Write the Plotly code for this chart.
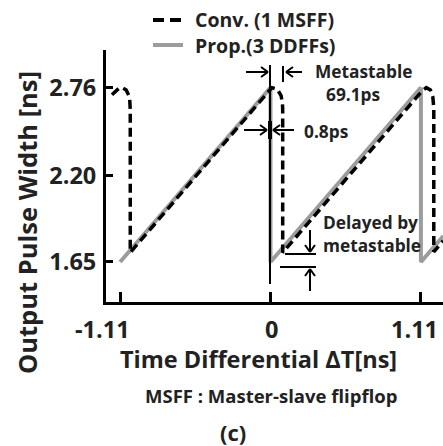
import plotly.graph_objects as go

# ---------------- data ----------------
prop_x = [-1.11, 0.0, 0.0, 1.11, 1.11, 1.275]
prop_y = [1.65, 2.76, 1.65, 2.76, 1.65, 1.815]

conv_x = [-1.17, -1.12, -1.095, -1.065, -1.04, -1.035, -1.035, -0.015, 0.01, 0.05, 0.078, 0.088, 0.09, 0.09,
          1.12, 1.15, 1.18, 1.198, 1.205, 1.205, 1.275]
conv_y = [2.715, 2.755, 2.76, 2.745, 2.70, 2.62, 1.71, 2.73, 2.76, 2.75, 2.71, 2.66, 2.62, 1.71,
          2.74, 2.76, 2.745, 2.70, 2.63, 1.715, 1.785]

x_tickvals = [-1.11, 0.0, 1.11]
x_ticktext = ["-1.11", "0", "1.11"]
y_tickvals = [1.65, 2.20, 2.76]
y_ticktext = ["1.65", "2.20", "2.76"]

series_names = ["Conv. (1 MSFF)", "Prop.(3 DDFFs)"]

# ---------------- layout geometry ----------------
W, H = 443, 446
L, R, T, B = 106, 0, 50, 144
PW, PH = W - L - R, H - T - B
FONT = "Open Sans"
GRAY = "#9c9c9c"
INK = "#222"


def px(x):
    return (x - L) / PW


def py(y):
    return (H - B - y) / PH


fig = go.Figure()
fig.add_trace(go.Scatter(x=prop_x, y=prop_y, mode="lines", name=series_names[1],
                         line=dict(color=GRAY, width=4), showlegend=False))
fig.add_trace(go.Scatter(x=conv_x, y=conv_y, mode="lines", name=series_names[0],
                         line=dict(color="black", width=3.5, dash="9px,5px"), showlegend=False))

shapes = []
annotations = []


def seg(x0, y0, x1, y1, color="black", width=2, dash=None):
    d = dict(type="line", xref="paper", yref="paper", x0=px(x0), y0=py(y0), x1=px(x1), y1=py(y1),
             line=dict(color=color, width=width))
    if dash:
        d["line"]["dash"] = dash
    shapes.append(d)


def arrow(x0, y0, x1, y1, head=7, half=5):
    seg(x0, y0, x1, y1)
    dx, dy = x1 - x0, y1 - y0
    n = (dx * dx + dy * dy) ** 0.5
    ux, uy = dx / n, dy / n
    bx, by = x1 - ux * head, y1 - uy * head
    seg(x1, y1, bx - uy * half, by + ux * half)
    seg(x1, y1, bx + uy * half, by - ux * half)


def text(s, x, y, size, xanchor="left", angle=0, color=INK):
    annotations.append(dict(text=s, x=px(x), y=py(y), xref="paper", yref="paper", showarrow=False,
                            xanchor=xanchor, yanchor="middle", textangle=angle,
                            font=dict(family=FONT, size=size, color=color, weight="bold")))


# legend
seg(153, 20, 183, 20, width=4, dash="11px,6px")
seg(153, 45, 183, 45, color=GRAY, width=4)
text(series_names[0], 193, 20, 19.5)
text(series_names[1], 193, 45, 19.5)

# metastable annotation
ANN = 17.3
seg(270, 65, 270, 284, width=2)
seg(283, 66, 283, 82, width=2)
arrow(246, 72, 268, 72)
arrow(302, 72, 286, 72)
text("Metastable", 313, 71, ANN)
text("69.1ps", 324, 94, ANN)

# 0.8ps annotation
seg(270, 121, 270, 139, width=4)
arrow(244, 130, 267, 130)
arrow(294, 130, 273, 130)
text("0.8ps", 302, 131, ANN)

# delayed by metastable
arrow(310, 230, 310, 252)
seg(285, 254, 316, 254, width=2)
seg(280, 267, 316, 267, width=2)
arrow(310, 291, 310, 269)
text("Delayed by", 321, 222, ANN)
text("metastable", 321, 245, ANN)

# x tick labels (placed as in the reference, slightly left of their ticks)
x_label_px = [102, 271, 414]
for lab, xp in zip(x_ticktext, x_label_px):
    text(lab, xp, 329, 23.5, xanchor="center")

# titles
text("Output Pulse Width [ns]", 27, 223, 25.5, xanchor="center", angle=-90)
text("Time Differential \u0394T[ns]", 258, 359, 23.5, xanchor="center")
text("MSFF : Master-slave flipflop", 271, 395, 18.5, xanchor="center")
text("(c)", 233, 432, 22, xanchor="center")

axis_font = dict(family=FONT, size=23.5, color=INK, weight="bold")
fig.update_layout(
    width=W, height=H, margin=dict(l=L, r=R, t=T, b=B),
    paper_bgcolor="white", plot_bgcolor="white",
    shapes=shapes, annotations=annotations, showlegend=False,
    xaxis=dict(range=[-1.214, 1.273], showgrid=False, zeroline=False, showline=True,
               linecolor="black", linewidth=3, ticks="inside", ticklen=10, tickwidth=2.5,
               tickcolor="black", tickvals=x_tickvals, ticktext=x_ticktext,
               showticklabels=False),
    yaxis=dict(range=[1.395, 3.0], showgrid=False, zeroline=False, showline=True,
               linecolor="black", linewidth=3, ticks="inside", ticklen=7, tickwidth=2.5,
               tickcolor="black", tickvals=y_tickvals, ticktext=y_ticktext,
               tickfont=axis_font, ticklabelstandoff=2),
)

fig.write_html("out.html", config={"displayModeBar": False},
               post_script="document.body.style.margin='0px';document.body.style.overflow='hidden';")
